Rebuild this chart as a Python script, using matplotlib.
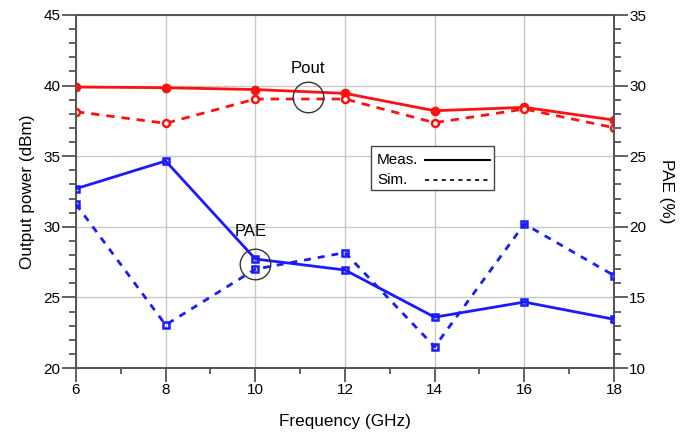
import matplotlib.pyplot as plt
from matplotlib.lines import Line2D
from matplotlib.patches import Rectangle
from matplotlib.ticker import MultipleLocator

plt.rcParams['font.family'] = ['Liberation Sans', 'DejaVu Sans']

freq = [6, 8, 10, 12, 14, 16, 18]
pout_meas = [39.9, 39.85, 39.72, 39.45, 38.22, 38.46, 37.56]
pout_sim = [38.15, 37.33, 39.05, 39.05, 37.37, 38.34, 37.02]
pae_meas = [22.7, 24.66, 17.72, 16.94, 13.6, 14.67, 13.45]
pae_sim = [21.6, 13.05, 17.0, 18.17, 11.5, 20.2, 16.55]
legend_labels = ['Meas.', 'Sim.']

spine_c = '#555555'

fig = plt.figure(figsize=(6.86, 4.33), dpi=100)
ax = fig.add_axes([76 / 686, 1 - 368 / 433, (614 - 76) / 686, (368 - 15) / 433])
ax2 = ax.twinx()

ax.plot(freq, pout_meas, '-o', color='#ff1010', lw=2, ms=6, zorder=3)
ax.plot(freq, pout_sim, '--o', color='#ff1010', lw=2, ms=5, mfc='white', mew=1.8,
        dashes=(3, 2.5), zorder=3)
ax2.plot(freq, pae_meas, '-s', color='#1a1aff', lw=2, ms=5, mfc='none', mew=1.8, zorder=3)
ax2.plot(freq, pae_sim, '--s', color='#1a1aff', lw=2, ms=5, mfc='none', mew=1.8,
         dashes=(2.5, 2.5), zorder=3)

ax.set_xlim(6, 18)
ax.set_ylim(20, 45)
ax2.set_ylim(10, 35)
ax.set_xticks(freq)
ax.xaxis.set_minor_locator(MultipleLocator(1))
ax.yaxis.set_major_locator(MultipleLocator(5))
ax.yaxis.set_minor_locator(MultipleLocator(1))
ax2.yaxis.set_major_locator(MultipleLocator(5))
ax2.yaxis.set_minor_locator(MultipleLocator(1))

ax.grid(True, which='major', color='#c8c8c8', lw=1)
ax.set_axisbelow(True)

for a in (ax, ax2):
    for s in a.spines.values():
        s.set_color(spine_c)
        s.set_linewidth(1.3)
    a.tick_params(which='major', direction='out', length=10, width=1.3, color=spine_c,
                  labelsize=11, pad=1)
    a.tick_params(which='minor', direction='out', length=5, width=1.3, color=spine_c)
ax.tick_params(axis='x', which='minor', length=4)
ax.tick_params(axis='x', which='major', pad=1)

ax.set_xlabel('Frequency (GHz)', fontsize=12.3, labelpad=12)
ax.set_ylabel('Output power (dBm)', fontsize=12.3, labelpad=6)
ax2.set_ylabel('PAE (%)', fontsize=12.3, rotation=270, labelpad=20)

# annotation circles
ax.plot([11.17], [39.19], 'o', ms=22, mfc='none', mec='#333333', mew=1, zorder=4)
ax.text(11.17, 41.2, 'Pout', fontsize=12, ha='center', va='center')
ax2.plot([10.0], [17.4], 'o', ms=22, mfc='none', mec='#333333', mew=1, zorder=4)
ax2.text(9.9, 19.7, 'PAE', fontsize=12, ha='center', va='center')

# legend box drawn by hand (text left, line right)
def px(x, y):
    return (x - 76) / 538, (368 - y) / 353

tr = ax2.transAxes
bx0, by0 = px(371, 190)
bx1, by1 = px(494, 146)
ax2.add_patch(Rectangle((bx0, by0), bx1 - bx0, by1 - by0, transform=tr,
                        facecolor='white', edgecolor='#444444', lw=1, zorder=5))
styles = ['-', (0, (2.5, 2.5))]
for i, (lab, st) in enumerate(zip(legend_labels, styles)):
    yy = 160 + i * 20
    tx, ty = px(377, yy)
    ax2.text(tx, ty, lab, transform=tr, fontsize=11, ha='left', va='center', zorder=6)
    lx0, ly = px(425, yy)
    lx1, _ = px(490, yy)
    ax2.add_line(Line2D([lx0, lx1], [ly, ly], transform=tr, color='black',
                        lw=1.5 if i == 0 else 1.2, ls=st, zorder=6))

fig.savefig('out.png', dpi=100)
